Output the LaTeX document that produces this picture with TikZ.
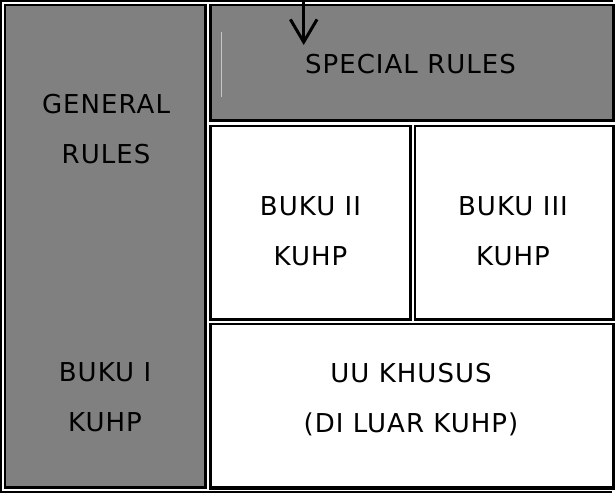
\documentclass[tikz,border=0pt]{standalone}
\usepackage{fontspec}
\setmainfont{DejaVu Sans}[LetterSpace=4]
\usetikzlibrary{
	arrows.meta,
	calc
}
\tikzset{every path/.append style={line width=2.25pt}}
\tikzset{
	celltext/.style={align=center,inner sep=0pt,font=\fontsize{19.5}{37.5}\selectfont},
	downarrow/.style={-{Straight Barb[length=17pt,width=20pt]}}
}
\newcommand{\tikzCell}[3][white]{
	\fill[black] #2 rectangle #3;
	\fill[#1] ($#2+(2.2,2.2)$) rectangle ($#3-(3.3,3.3)$);
}

\begin{document}
\begin{tikzpicture}[x=0.75pt,y=-0.75pt]
	\useasboundingbox (0,0) rectangle (616,493);
	\draw[line width=1.7pt] (613,1.15) -- (1,1.15) -- (1,492) -- (612,492);
	
	\tikzCell[gray]{(4,4)}{(207.3,489)}
	\tikzCell[gray]{(209.3,4)}{(614.8,122.3)}
	\tikzCell{(209.3,125)}{(412.3,321)}
	\tikzCell{(413.7,125)}{(614.8,321)}
	\tikzCell{(209.3,323)}{(614.8,489.5)}
	
	\draw[gray!45,line width=0.75pt] (221,32) -- (221,97);
	
	\node[celltext] (general) at (106,129) {GENERAL\\RULES};
	\node[celltext] (bukuI)   at (105,397) {BUKU I\\KUHP};
	\node[celltext] (special) at (410.5,64.5) {SPECIAL RULES};
	\node[celltext] (bukuII)  at (310.5,231) {BUKU II\\KUHP};
	\node[celltext] (bukuIII) at (513,231) {BUKU III\\KUHP};
	\node[celltext] (khusus)  at (411,400) {UU KHUSUS\\(DI LUAR KUHP)};
	
	\coordinate (arrowtop) at (303.7,0);
	\coordinate (arrowtip) at (303.7,45);
	\draw[downarrow] (arrowtop) -- (arrowtip);
\end{tikzpicture}
\end{document}
